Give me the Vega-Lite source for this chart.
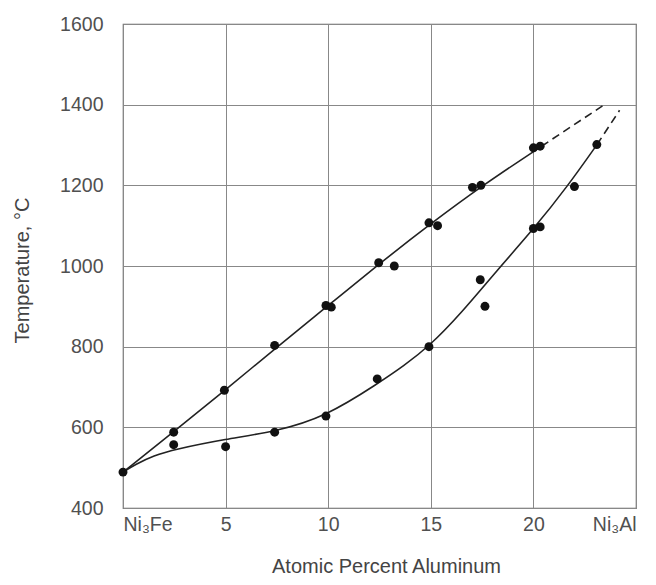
{
  "$schema": "https://vega.github.io/schema/vega-lite/v6.json",
  "width": 513,
  "height": 484,
  "autosize": {"type": "none"},
  "padding": {"left": 123, "top": 24, "right": 20, "bottom": 77},
  "background": "white",
  "config": {
    "view": {"stroke": "#666", "strokeWidth": 1.2},
    "font": "Liberation Sans",
    "axis": {
      "labelFont": "Liberation Sans",
      "titleFont": "Liberation Sans",
      "labelFontSize": 19.5,
      "titleFontSize": 20,
      "titleFontWeight": "normal",
      "labelColor": "#505050",
      "titleColor": "#444",
      "gridColor": "#888",
      "gridOpacity": 1,
      "gridWidth": 1,
      "domain": false,
      "ticks": false
    }
  },
  "datasets": {
    "pts": [
      {"x": 0, "t": 489},
      {"x": 2.47, "t": 588}, {"x": 4.94, "t": 692}, {"x": 7.39, "t": 803},
      {"x": 9.89, "t": 902}, {"x": 10.15, "t": 898}, {"x": 12.46, "t": 1008},
      {"x": 13.22, "t": 1000}, {"x": 14.91, "t": 1107}, {"x": 15.33, "t": 1100},
      {"x": 17.03, "t": 1195}, {"x": 17.44, "t": 1200}, {"x": 20.0, "t": 1293},
      {"x": 20.33, "t": 1297},
      {"x": 2.47, "t": 557}, {"x": 5.0, "t": 552}, {"x": 7.39, "t": 588},
      {"x": 9.89, "t": 628}, {"x": 12.39, "t": 720}, {"x": 14.91, "t": 800},
      {"x": 17.41, "t": 966}, {"x": 17.64, "t": 900}, {"x": 20.0, "t": 1093},
      {"x": 20.33, "t": 1097}, {"x": 22.0, "t": 1197}, {"x": 23.09, "t": 1301}
    ],
    "curves": [
      {"curve": "upper", "x": 0, "t": 489},
      {"curve": "upper", "x": 2.5, "t": 590},
      {"curve": "upper", "x": 5, "t": 693},
      {"curve": "upper", "x": 7.5, "t": 799},
      {"curve": "upper", "x": 10, "t": 902},
      {"curve": "upper", "x": 12.5, "t": 1006},
      {"curve": "upper", "x": 15, "t": 1105},
      {"curve": "upper", "x": 17.5, "t": 1199},
      {"curve": "upper", "x": 20.4, "t": 1297},
      {"curve": "lower", "x": 0, "t": 489},
      {"curve": "lower", "x": 0.6, "t": 508},
      {"curve": "lower", "x": 1.5, "t": 530},
      {"curve": "lower", "x": 2.5, "t": 545},
      {"curve": "lower", "x": 5, "t": 571},
      {"curve": "lower", "x": 7.4, "t": 589},
      {"curve": "lower", "x": 9.9, "t": 627},
      {"curve": "lower", "x": 12.46, "t": 710},
      {"curve": "lower", "x": 13.67, "t": 752},
      {"curve": "lower", "x": 14.9, "t": 800},
      {"curve": "lower", "x": 16.43, "t": 880},
      {"curve": "lower", "x": 18.22, "t": 989},
      {"curve": "lower", "x": 20, "t": 1091},
      {"curve": "lower", "x": 21.7, "t": 1200},
      {"curve": "lower", "x": 23.1, "t": 1301}
    ],
    "dashes": [
      {"curve": "upper", "x": 20.4, "t": 1297},
      {"curve": "upper", "x": 23.46, "t": 1400},
      {"curve": "lower", "x": 23.1, "t": 1301},
      {"curve": "lower", "x": 24.2, "t": 1386}
    ]
  },
  "encoding": {
    "x": {
      "field": "x", "type": "quantitative",
      "scale": {"domain": [0, 25], "nice": false, "zero": false},
      "axis": {
        "values": [0, 5, 10, 15, 20, 25],
        "labelPadding": 7,
        "labelExpr": "datum.value == 0 ? 'Ni₃Fe' : datum.value == 25 ? 'Ni₃Al' : datum.label",
        "title": "Atomic Percent Aluminum",
        "titleX": 263,
        "titleY": 58,
        "titleBaseline": "middle",
        "titleAnchor": null
      }
    },
    "y": {
      "field": "t", "type": "quantitative",
      "scale": {"domain": [400, 1600], "nice": false, "zero": false},
      "axis": {
        "values": [400, 600, 800, 1000, 1200, 1400, 1600],
        "format": "d",
        "labelPadding": 20,
        "title": "Temperature, °C",
        "titleX": -101,
        "titleY": 246,
        "titleAngle": -90,
        "titleAlign": "center",
        "titleBaseline": "middle"
      }
    }
  },
  "layer": [
    {
      "data": {"name": "curves"},
      "mark": {"type": "line", "interpolate": "basis", "color": "#222", "strokeWidth": 1.6},
      "encoding": {"detail": {"field": "curve"}}
    },
    {
      "data": {"name": "dashes"},
      "mark": {"type": "line", "color": "#222", "strokeWidth": 1.6, "strokeDash": [8, 5]},
      "encoding": {"detail": {"field": "curve"}}
    },
    {
      "data": {"name": "pts"},
      "mark": {"type": "circle", "color": "#111", "opacity": 1, "size": 80}
    }
  ]
}
